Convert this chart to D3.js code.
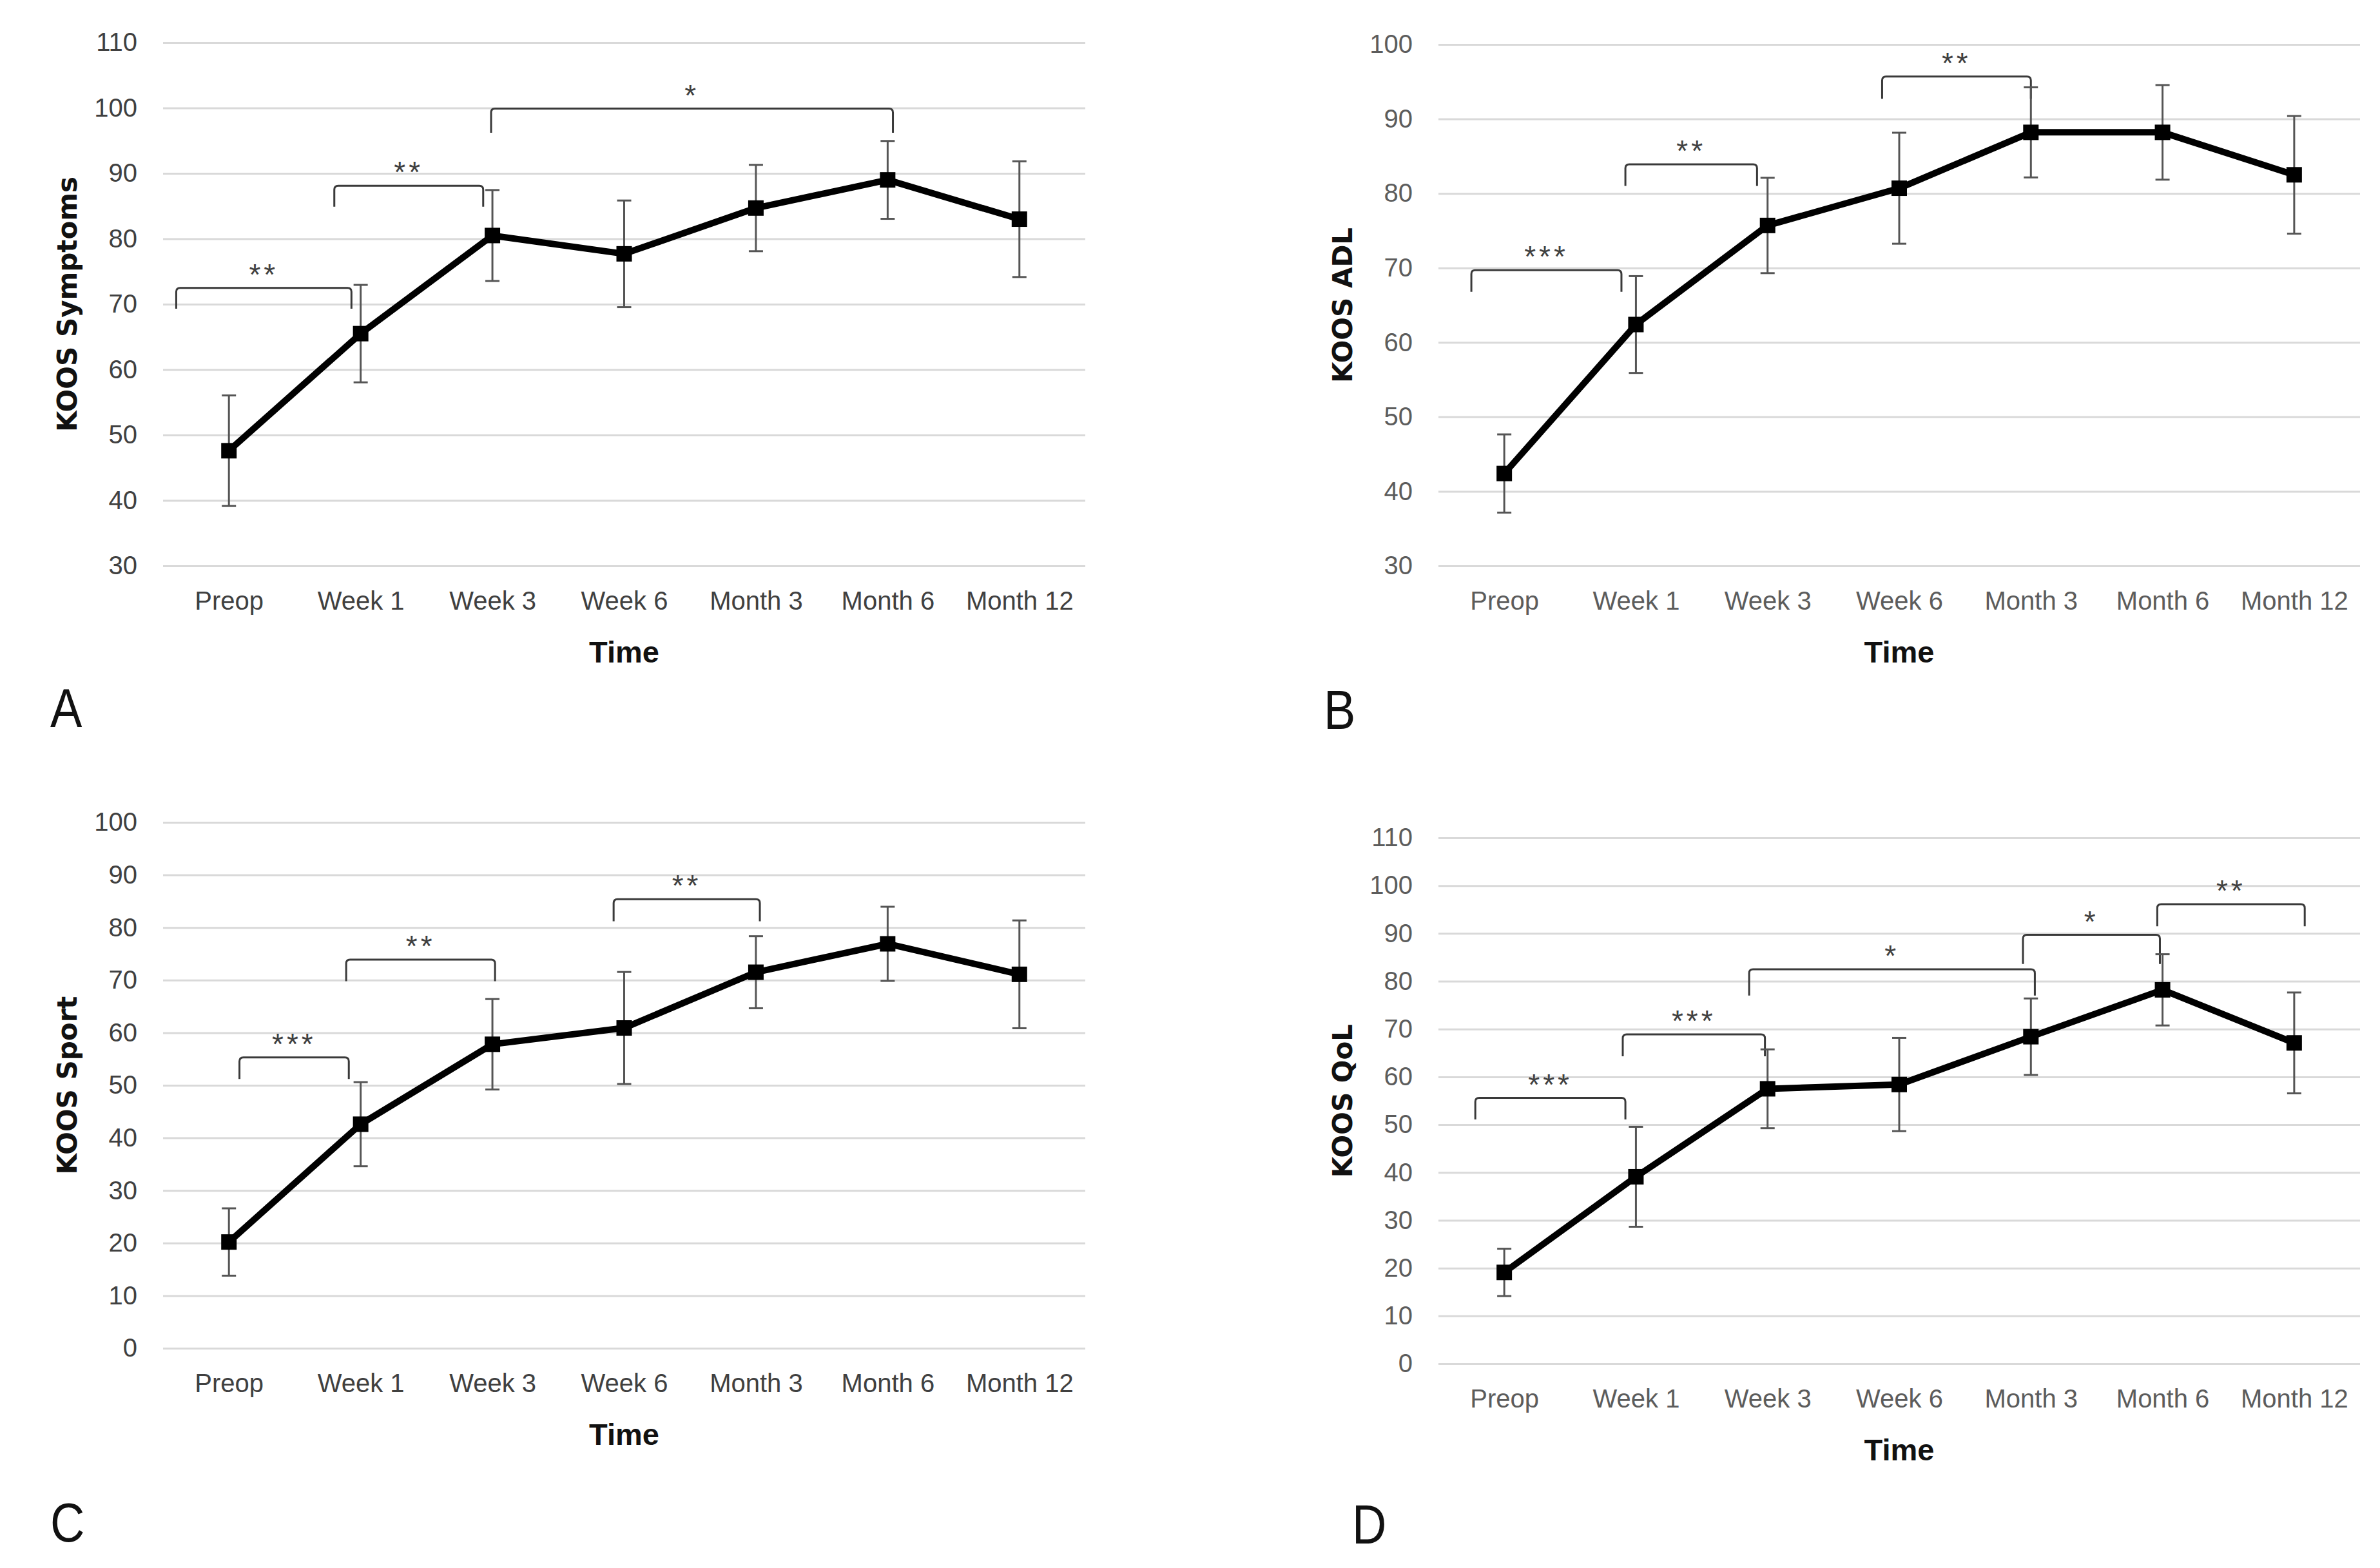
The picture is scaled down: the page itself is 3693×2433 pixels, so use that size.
<!DOCTYPE html>
<html>
  <head>
    <title>KOOS subscales over time</title>
    <meta charset="UTF-8" />
    <script src="https://d3js.org/d3.v7.min.js"></script>
    <style>
        body { margin: 0; background: #fff; }
        .grid line { stroke: #d9d9d9; stroke-width: 3; }
        .tick text { font-family: "Liberation Sans", Arial, sans-serif; font-size: 40px; }
    </style>
  </head>
  <body>
    <script>
        // time points
        var categories = ["Preop", "Week 1", "Week 3", "Week 6", "Month 3", "Month 6", "Month 12"];

        // means and error bar half-lengths
        var symptomsMean = [47.6, 65.5, 80.5, 77.7, 84.7, 89.0, 83.0];
        var symptomsErr  = [8.45, 7.45, 6.95, 8.15, 6.6, 5.95, 8.85];
        var adlMean = [42.4, 62.4, 75.7, 80.7, 88.2, 88.2, 82.5];
        var adlErr  = [5.25, 6.5, 6.4, 7.45, 6.05, 6.35, 7.9];
        var sportMean = [20.2, 42.6, 57.8, 60.9, 71.5, 76.9, 71.1];
        var sportErr  = [6.4, 8.0, 8.6, 10.65, 6.85, 7.05, 10.25];
        var qolMean = [19.1, 39.1, 57.5, 58.4, 68.4, 78.2, 67.1];
        var qolErr  = [4.95, 10.45, 8.25, 9.75, 8.0, 7.45, 10.55];

        // y tick labels
        var symptomsTicks = [30, 40, 50, 60, 70, 80, 90, 100, 110];
        var adlTicks = [30, 40, 50, 60, 70, 80, 90, 100];
        var sportTicks = [0, 10, 20, 30, 40, 50, 60, 70, 80, 90, 100];
        var qolTicks = [0, 10, 20, 30, 40, 50, 60, 70, 80, 90, 100, 110];

        // significance brackets: [from index, to index, top value, foot value, label]
        var symptomsBrackets = [
            [-0.4, 0.93, 72.5, 69.3, "**"],
            [0.8, 1.93, 88.1, 84.9, "**"],
            [1.99, 5.04, 99.9, 96.2, "*"]
        ];
        var adlBrackets = [
            [-0.25, 0.89, 69.7, 66.8, "***"],
            [0.92, 1.92, 83.9, 81.0, "**"],
            [2.87, 4.0, 95.7, 92.7, "**"]
        ];
        var sportBrackets = [
            [0.08, 0.91, 55.3, 51.2, "***"],
            [0.89, 2.02, 73.9, 69.8, "**"],
            [2.92, 4.03, 85.4, 81.2, "**"]
        ];
        var qolBrackets = [
            [-0.22, 0.92, 55.6, 51.1, "***"],
            [0.9, 1.98, 68.9, 64.3, "***"],
            [1.86, 4.03, 82.5, 77.0, "*"],
            [3.94, 4.98, 89.7, 83.6, "*"],
            [4.96, 6.08, 96.1, 91.5, "**"]
        ];

        var panels = [
            { letter: "A", title: "KOOS Symptoms", mean: symptomsMean, err: symptomsErr, ticks: symptomsTicks,
              brackets: symptomsBrackets, left: 253, right: 1684, top: 66, bottom: 878,
              letterX: 78, letterY: 1128, tickColor: "#404040" },
            { letter: "B", title: "KOOS ADL", mean: adlMean, err: adlErr, ticks: adlTicks,
              brackets: adlBrackets, left: 2232, right: 3662, top: 69, bottom: 878,
              letterX: 2054, letterY: 1131, tickColor: "#5c5c5c" },
            { letter: "C", title: "KOOS Sport", mean: sportMean, err: sportErr, ticks: sportTicks,
              brackets: sportBrackets, left: 253, right: 1684, top: 1276, bottom: 2092,
              letterX: 78, letterY: 2392, tickColor: "#404040" },
            { letter: "D", title: "KOOS QoL", mean: qolMean, err: qolErr, ticks: qolTicks,
              brackets: qolBrackets, left: 2232, right: 3662, top: 1300, bottom: 2116,
              letterX: 2098, letterY: 2395, tickColor: "#5c5c5c" }
        ];

        var svg = d3.select("body")
            .append("svg")
            .attr("width", 3693)
            .attr("height", 2433)
            .style("display", "block");

        panels.forEach(drawPanel);

        function drawPanel(p) {
            var x = d3.scalePoint()
                .domain(categories)
                .range([p.left, p.right])
                .padding(0.5);
            // fractional positions for the brackets
            var xi = d3.scaleLinear()
                .domain([0, categories.length - 1])
                .range([x(categories[0]), x(categories[categories.length - 1])]);
            var y = d3.scaleLinear()
                .domain([p.ticks[0], p.ticks[p.ticks.length - 1]])
                .range([p.bottom, p.top]);

            var g = svg.append("g");

            // gridlines + y labels
            var gy = g.append("g")
                .attr("class", "grid")
                .attr("transform", "translate(" + p.left + ",0)")
                .call(d3.axisLeft(y)
                    .tickValues(p.ticks)
                    .tickSize(-(p.right - p.left))
                    .tickPadding(40)
                    .tickFormat(d3.format("d")));
            gy.select(".domain").remove();
            gy.selectAll("text").attr("fill", p.tickColor);

            // x labels
            var gx = g.append("g")
                .attr("transform", "translate(0," + p.bottom + ")")
                .call(d3.axisBottom(x).tickSize(0).tickPadding(40));
            gx.select(".domain").remove();
            gx.selectAll("text").attr("fill", p.tickColor);

            // axis titles
            g.append("text")
                .attr("x", (p.left + p.right) / 2)
                .attr("y", p.bottom + 133)
                .attr("text-anchor", "middle")
                .attr("dominant-baseline", "central")
                .style("font-family", "'Liberation Sans', Arial, sans-serif")
                .style("font-weight", "bold")
                .style("font-size", "47px")
                .attr("fill", "#111")
                .text("Time");

            g.append("text")
                .attr("transform", "translate(" + (p.left - 149) + "," + ((p.top + p.bottom) / 2) + ") rotate(-90)")
                .attr("text-anchor", "middle")
                .attr("dominant-baseline", "central")
                .style("font-family", "'DejaVu Sans', Verdana, sans-serif")
                .style("font-weight", "bold")
                .style("font-size", "42px")
                .attr("fill", "#111")
                .text(p.title);

            // panel letter, squeezed a little to look like the narrow original face
            g.append("text")
                .attr("transform", "translate(" + p.letterX + "," + p.letterY + ") scale(0.86,1)")
                .style("font-family", "'Liberation Sans', Arial, sans-serif")
                .style("font-size", "86px")
                .attr("fill", "#111")
                .text(p.letter);

            // significance brackets
            var r = 6;
            g.selectAll(".bracket")
                .data(p.brackets)
                .enter()
                .append("path")
                .attr("class", "bracket")
                .attr("fill", "none")
                .attr("stroke", "#3a3a3a")
                .attr("stroke-width", 3)
                .attr("d", function(b) {
                    var x1 = xi(b[0]), x2 = xi(b[1]), yt = y(b[2]), yb = y(b[3]);
                    return "M" + x1 + "," + yb + "L" + x1 + "," + (yt + r) +
                        "Q" + x1 + "," + yt + " " + (x1 + r) + "," + yt +
                        "L" + (x2 - r) + "," + yt +
                        "Q" + x2 + "," + yt + " " + x2 + "," + (yt + r) +
                        "L" + x2 + "," + yb;
                });

            g.selectAll(".stars")
                .data(p.brackets)
                .enter()
                .append("text")
                .attr("class", "stars")
                .attr("x", function(b) { return (xi(b[0]) + xi(b[1])) / 2; })
                .attr("y", function(b) { return y(b[2]) - 5; })
                .attr("text-anchor", "middle")
                .style("font-family", "'Liberation Sans', Arial, sans-serif")
                .style("font-size", "46px")
                .style("letter-spacing", "5px")
                .attr("fill", "#404040")
                .text(function(b) { return b[4]; });

            var pts = categories.map(function(c, i) {
                return { c: c, m: p.mean[i], e: p.err[i] };
            });

            // error bars
            var eb = g.selectAll(".err")
                .data(pts)
                .enter()
                .append("g")
                .attr("class", "err")
                .attr("stroke", "#555")
                .attr("stroke-width", 3);
            eb.append("line")
                .attr("x1", d => x(d.c)).attr("x2", d => x(d.c))
                .attr("y1", d => y(d.m - d.e)).attr("y2", d => y(d.m + d.e));
            eb.append("line")
                .attr("x1", d => x(d.c) - 11).attr("x2", d => x(d.c) + 11)
                .attr("y1", d => y(d.m + d.e)).attr("y2", d => y(d.m + d.e));
            eb.append("line")
                .attr("x1", d => x(d.c) - 11).attr("x2", d => x(d.c) + 11)
                .attr("y1", d => y(d.m - d.e)).attr("y2", d => y(d.m - d.e));

            // mean line
            var line = d3.line()
                .x(d => x(d.c))
                .y(d => y(d.m));
            g.append("path")
                .datum(pts)
                .attr("fill", "none")
                .attr("stroke", "#000")
                .attr("stroke-width", 10)
                .attr("stroke-linejoin", "round")
                .attr("d", line);

            // square markers
            g.selectAll(".marker")
                .data(pts)
                .enter()
                .append("rect")
                .attr("class", "marker")
                .attr("x", d => x(d.c) - 12)
                .attr("y", d => y(d.m) - 12)
                .attr("width", 24)
                .attr("height", 24)
                .attr("fill", "#000");
        }
    </script>
  </body>
</html>
